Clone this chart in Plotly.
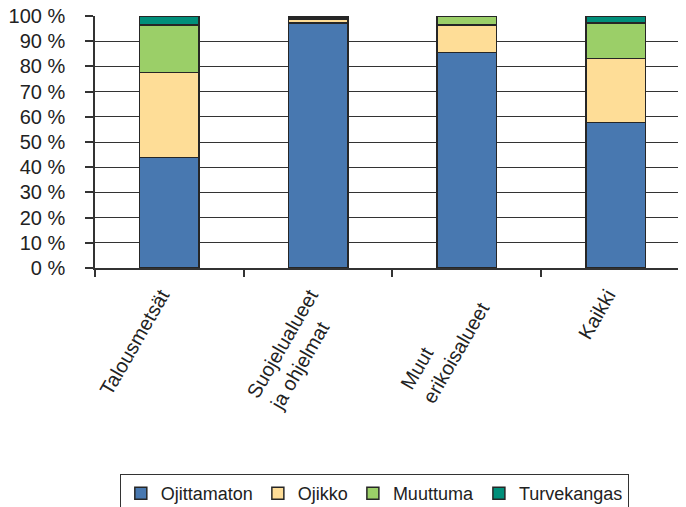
import plotly.graph_objects as go

categories = ["Talousmetsät", "Suojelualueet<br>ja ohjelmat", "Muut<br>erikoisalueet", "Kaikki"]
ojittamaton = [43.8, 97.3, 85.6, 57.7]
ojikko = [33.7, 1.5, 10.8, 25.5]
muuttuma = [18.9, 0.7, 3.6, 14.1]
turvekangas = [3.6, 0.5, 0.0, 2.7]
y_ticks = [0, 10, 20, 30, 40, 50, 60, 70, 80, 90, 100]
y_tick_labels = [f"{v} %" for v in y_ticks]

# rotated multi-line labels are left-aligned in the original: pad short lines
NB = "\u00a0"
tick_text = ["Talousmetsät",
             "Suojelualueet<br>ja ohjelmat" + NB * 4,
             "Muut" + NB * 12 + "<br>erikoisalueet",
             "Kaikki"]

series = [
    ("Ojittamaton", ojittamaton, "#4878B0"),
    ("Ojikko", ojikko, "#FEDD97"),
    ("Muuttuma", muuttuma, "#9BCF68"),
    ("Turvekangas", turvekangas, "#008F7A"),
]

fig = go.Figure()
for name, vals, col in series:
    fig.add_trace(go.Bar(
        x=categories, y=vals, name=name,
        marker=dict(color=col, line=dict(color="#262626", width=1.5)),
        width=0.40,
    ))

FAM = "Liberation Sans, Arial, sans-serif"
fnt = dict(family=FAM, size=20, color="#222222")
fig.update_layout(
    barmode="stack",
    width=686, height=507,
    margin=dict(l=87, r=8, t=8, b=247, autoexpand=False),
    paper_bgcolor="white", plot_bgcolor="white",
    font=fnt,
    showlegend=True,
    legend=dict(
        orientation="h",
        xref="container", yref="container",
        x=0.163, y=0.081, xanchor="left", yanchor="top",
        bordercolor="#333333", borderwidth=1,
        font=dict(family=FAM, size=18, color="#222222"),
        traceorder="normal",
        itemwidth=30,
    ),
)
fig.update_xaxes(
    type="category",
    range=[-0.5, 3.474],
    tickvals=categories, ticktext=tick_text,
    tickangle=-60,
    showline=True, linecolor="#333333", linewidth=1.5,
    ticks="outside", ticklen=7, tickcolor="#333333", tickwidth=1.5,
    tickson="boundaries",
    showgrid=False, zeroline=False,
    tickfont=fnt,
    automargin=False,
    ticklabelshift=-8,
    ticklabelstandoff=6,
    ticklabeloverflow="allow",
)
fig.update_yaxes(
    range=[0, 100],
    tickvals=y_ticks, ticktext=y_tick_labels,
    showline=True, linecolor="#333333", linewidth=1.5,
    ticks="outside", ticklen=8, tickcolor="#333333", tickwidth=1.5,
    showgrid=True, gridcolor="#333333", gridwidth=1.3,
    zeroline=False,
    ticklabelstandoff=16,
    tickfont=fnt,
    automargin=False,
    ticklabeloverflow="allow",
)
fig.write_html("out.html")
